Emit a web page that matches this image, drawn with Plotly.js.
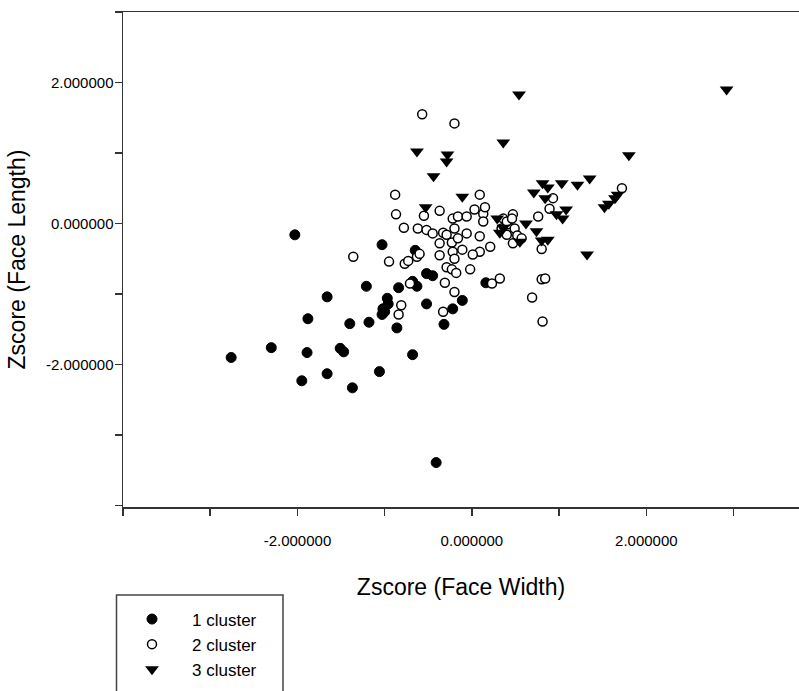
<!DOCTYPE html>
<html><head><meta charset="utf-8">
<script src="https://cdn.plot.ly/plotly-3.0.1.min.js"></script>
<style>html,body{margin:0;padding:0;background:#fff}</style>
</head><body>
<div id="chart" style="width:799px;height:691px"></div>
<script>
const seriesNames = ['1 cluster', '2 cluster', '3 cluster'];

const cluster1X = [-2.03,-2.76,-2.30,-1.89,-1.95,-1.66,-1.66,-1.88,-1.51,-1.47,-1.37,-1.40,-1.18,-1.21,-1.06,-1.03,-0.97,-0.96,-1.02,-1.00,-1.03,-0.86,-0.84,-0.68,-0.68,-0.63,-0.65,-0.52,-0.45,-0.52,-0.32,-0.22,-0.11,0.16,-0.41];
const cluster1Y = [-0.16,-1.90,-1.76,-1.83,-2.23,-2.13,-1.04,-1.35,-1.77,-1.82,-2.33,-1.42,-1.40,-0.89,-2.10,-0.30,-1.06,-1.14,-1.21,-1.25,-1.29,-1.48,-0.91,-1.86,-0.82,-0.89,-0.38,-0.71,-0.74,-1.14,-1.43,-1.21,-1.09,-0.84,-3.39];

const cluster2X = [-0.57,-0.20,-0.88,0.09,-0.87,-0.78,-0.62,-0.55,-0.37,-0.52,-0.45,-0.33,-0.22,-0.16,-0.06,0.03,0.13,0.15,0.13,-0.20,-0.06,-0.29,-0.23,-0.37,-0.16,0.09,0.21,-0.11,-0.22,-0.20,-0.37,0.09,0.01,-1.36,-0.95,-0.77,-0.73,-0.63,-0.60,-0.29,-0.23,-0.18,-0.02,-0.31,-0.20,-0.71,-0.81,-0.84,-0.33,0.23,0.32,0.36,0.41,0.34,0.47,0.49,0.40,0.52,0.47,0.57,0.40,0.76,0.93,0.89,0.80,0.80,0.84,0.69,0.81,1.72,0.46];
const cluster2Y = [1.55,1.42,0.41,0.41,0.13,-0.06,-0.07,0.11,0.18,-0.09,-0.14,-0.13,0.07,0.10,0.10,0.20,0.14,0.23,0.03,-0.07,-0.14,-0.16,-0.27,-0.28,-0.21,-0.18,-0.33,-0.37,-0.40,-0.50,-0.45,-0.40,-0.44,-0.47,-0.54,-0.57,-0.53,-0.47,-0.43,-0.62,-0.65,-0.70,-0.65,-0.84,-0.97,-0.85,-1.16,-1.29,-1.25,-0.85,-0.78,0.07,-0.01,-0.07,0.13,-0.07,-0.16,-0.17,-0.28,-0.21,0.03,0.10,0.36,0.21,-0.36,-0.79,-0.78,-1.05,-1.39,0.50,0.07];

const cluster3X = [0.54,2.92,0.36,-0.63,-0.28,-0.29,-0.44,-0.11,-0.53,1.80,1.35,1.21,1.03,0.81,0.87,0.71,0.84,1.52,1.57,1.64,1.67,1.08,0.97,1.04,0.29,0.36,0.32,0.62,0.74,0.80,0.87,0.55,1.32];
const cluster3Y = [1.83,1.90,1.15,1.02,0.98,0.88,0.67,0.38,0.23,0.97,0.64,0.55,0.57,0.57,0.51,0.44,0.36,0.23,0.28,0.36,0.41,0.20,0.13,0.07,0.07,-0.06,-0.13,0.00,-0.11,-0.24,-0.23,-0.26,-0.44];

const xTickVals = [-4,-3,-2,-1,0,1,2,3];
const xTickText = ['','','-2.000000','','0.000000','','2.000000',''];
const yTickVals = [-4,-3,-2,-1,0,1,2,3];
const yTickText = ['','','-2.000000','','0.000000','','2.000000',''];

const FONT = 'Liberation Sans, Arial, Helvetica, sans-serif';
const AX = '#333333';

const traces = [
  {x: cluster1X, y: cluster1Y, name: seriesNames[0], type: 'scatter', mode: 'markers',
   marker: {symbol: 'circle', size: 10, color: '#000', line: {color: '#000', width: 1}}},
  {x: cluster2X, y: cluster2Y, name: seriesNames[1], type: 'scatter', mode: 'markers',
   marker: {symbol: 'circle', size: 9, color: '#fff', line: {color: '#000', width: 1.5}}},
  {x: cluster3X, y: cluster3Y, name: seriesNames[2], type: 'scatter', mode: 'markers',
   marker: {symbol: 'triangle-down', size: 12, color: '#000', line: {width: 0}}}
];

const axisCommon = {
  ticks: 'outside', ticklen: 7, tickwidth: 1.5, tickcolor: AX,
  showline: true, linecolor: AX, linewidth: 1.5,
  showgrid: false, zeroline: false, automargin: true,
  tickfont: {family: FONT, size: 15, color: '#000'},
  tickmode: 'array'
};

const layout = {
  width: 799, height: 691,
  margin: {l: 123, r: 0, t: 12, b: 184, autoexpand: false},
  paper_bgcolor: '#fff', plot_bgcolor: '#fff',
  font: {family: FONT, color: '#000'},
  showlegend: true,
  legend: {
    x: (112 - 123) / 676, xanchor: 'left',
    y: (507 - 601.5) / 495, yanchor: 'top',
    borderwidth: 0, bgcolor: 'rgba(0,0,0,0)',
    font: {family: FONT, size: 17, color: '#000'},
    itemwidth: 70, traceorder: 'normal'
  },
  xaxis: Object.assign({}, axisCommon, {
    range: [-4, 3.75], tickvals: xTickVals, ticktext: xTickText,
    mirror: true, ticklabelstandoff: 12,
    title: {text: 'Zscore (Face Width)', font: {family: FONT, size: 23, color: '#000'}, standoff: 31}
  }),
  yaxis: Object.assign({}, axisCommon, {
    range: [-4.02, 3.0], tickvals: yTickVals, ticktext: yTickText,
    mirror: false, ticklabelstandoff: -2,
    title: {text: 'Zscore (Face Length)', font: {family: FONT, size: 23, color: '#000'}, standoff: 14}
  }),
  shapes: [{
    type: 'rect', xref: 'paper', yref: 'paper',
    x0: (116.5 - 123) / 676, x1: (283 - 123) / 676,
    y0: (507 - 595) / 495, y1: (507 - 720) / 495,
    line: {color: '#444', width: 1.5}, fillcolor: 'rgba(0,0,0,0)', layer: 'above'
  }]
};

Plotly.newPlot('chart', traces, layout, {displayModeBar: false, staticPlot: true});
</script>
</body></html>
